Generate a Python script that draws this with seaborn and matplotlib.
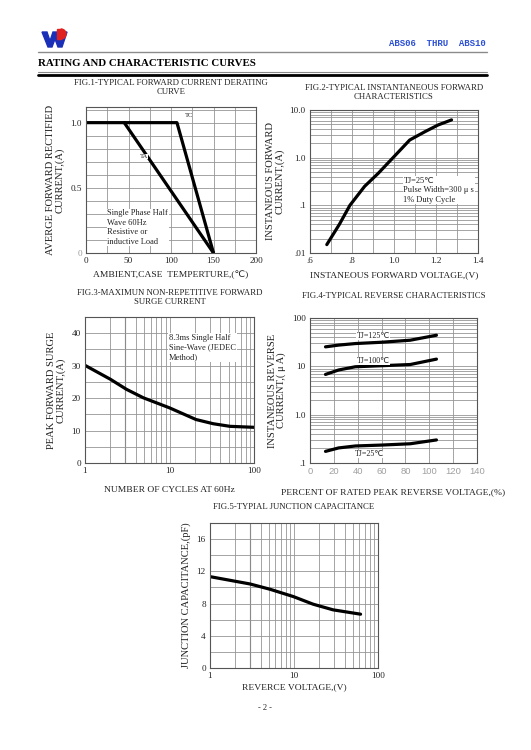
import numpy as np
import pandas as pd
import seaborn as sns
import matplotlib
matplotlib.use('Agg')
import matplotlib.pyplot as plt
from matplotlib.ticker import MultipleLocator, LogLocator, FixedLocator, NullFormatter
from matplotlib.patches import Polygon, Wedge

# Fig.1 derating curve
fig1_temp_tc = [0, 107, 150]
fig1_cur_tc = [1.0, 1.0, 0.0]
fig1_temp_ta = [45, 150]
fig1_cur_ta = [1.0, 0.0]

# Fig.2 forward characteristics
fig2_volt = [0.68, 0.74, 0.79, 0.86, 0.925, 1.0, 1.075, 1.147, 1.21, 1.274]
fig2_cur = [0.015, 0.04, 0.10, 0.25, 0.47, 1.05, 2.35, 3.5, 4.85, 6.2]

# Fig.3 surge current
fig3_cycles = [1, 2, 3.1, 4.9, 10, 20.6, 33, 52, 100]
fig3_cur = [30.1, 25.8, 22.7, 20.1, 17.0, 13.4, 12.1, 11.3, 11.0]

# Fig.4 reverse characteristics
fig4_pct = [13, 24, 38, 60, 84, 106]
fig4_tj125 = [25.3, 27.5, 29.6, 31.5, 34.7, 44]
fig4_tj100 = [6.8, 8.4, 9.8, 10.3, 10.9, 14.1]
fig4_tj25 = [0.174, 0.205, 0.225, 0.235, 0.25, 0.30]

# Fig.5 junction capacitance
fig5_volt = [1, 3, 5.2, 9.8, 16.9, 29.2, 62]
fig5_cap = [11.34, 10.43, 9.77, 8.87, 7.92, 7.22, 6.68]

sns.set_theme(style='white')
plt.rcParams['font.family'] = ['Liberation Serif', 'DejaVu Sans']

W, H = 531, 750
fig = plt.figure(figsize=(W / 100, H / 100), dpi=100)
fig.patch.set_facecolor('white')


def box(l, t, r, b):
    return [l / W, 1 - b / H, (r - l) / W, (b - t) / H]


GRID = '#959595'
TXT = '#222222'


def style(ax, title, xlabel, ylabel, title_y, xlab_pad):
    ax.grid(which='both', color=GRID, linewidth=0.6)
    ax.set_axisbelow(True)
    for s in ax.spines.values():
        s.set_color('#555555')
        s.set_linewidth(0.8)
    ax.tick_params(which='both', length=0, labelsize=6.6, colors=TXT, pad=3)
    ax.set_title(title, fontsize=6.3, color=TXT, y=title_y, linespacing=1.15)
    ax.set_xlabel(xlabel, fontsize=6.8, color=TXT, labelpad=xlab_pad)
    ax.set_ylabel(ylabel, fontsize=7.6, color=TXT, linespacing=1.0, labelpad=4)


def note(ax, x, y, s, size=6.0):
    ax.text(x, y, s, fontsize=size, color=TXT, va='top', ha='left',
            linespacing=1.25, bbox=dict(facecolor='white', edgecolor='none', pad=0.5))


# ---------------- Fig.1 ----------------
ax1 = fig.add_axes(box(86, 107, 256, 253))
sns.lineplot(x=fig1_temp_tc, y=fig1_cur_tc, ax=ax1, color='black', linewidth=2.3, sort=False)
sns.lineplot(x=fig1_temp_ta, y=fig1_cur_ta, ax=ax1, color='black', linewidth=2.3, sort=False)
ax1.set_xlim(0, 200)
ax1.set_ylim(0, 1.12)
ax1.xaxis.set_major_locator(MultipleLocator(50))
ax1.xaxis.set_minor_locator(MultipleLocator(25))
ax1.set_yticks([0, 0.5, 1.0])
ax1.set_yticklabels(['0', '0.5', '1.0'])
ax1.yaxis.set_minor_locator(MultipleLocator(0.1))
style(ax1, 'FIG.1-TYPICAL FORWARD CURRENT DERATING\nCURVE',
      'AMBIENT,CASE  TEMPERTURE,(\u2103)', 'AVERGE FORWARD RECTIFIED\nCURRENT,(A)', 1.03, 4)
ax1.get_yticklabels()[0].set_color('#999999')
ax1.text(116, 1.035, 'TC', fontsize=4.8, color=TXT, va='bottom')
ax1.text(63, 0.74, 'TA', fontsize=4.8, color=TXT, va='center',
         bbox=dict(facecolor='white', edgecolor='none', pad=0.2))
note(ax1, 25, 0.335, 'Single Phase Half\nWave 60Hz\nResistive or\ninductive Load')

# ---------------- Fig.2 ----------------
ax2 = fig.add_axes(box(310, 110, 478, 253))
sns.lineplot(x=fig2_volt, y=fig2_cur, ax=ax2, color='black', linewidth=2.3, sort=False)
ax2.set_yscale('log')
ax2.set_xlim(0.6, 1.4)
ax2.set_ylim(0.01, 10)
ax2.set_xticks([0.6, 0.8, 1.0, 1.2, 1.4])
ax2.set_xticklabels(['.6', '.8', '1.0', '1.2', '1.4'])
ax2.xaxis.set_minor_locator(MultipleLocator(0.1))
ax2.set_yticks([0.01, 0.1, 1, 10])
ax2.set_yticklabels(['.01', '.1', '1.0', '10.0'])
ax2.yaxis.set_minor_locator(LogLocator(base=10, subs=np.arange(2, 10)))
ax2.yaxis.set_minor_formatter(NullFormatter())
style(ax2, 'FIG.2-TYPICAL INSTANTANEOUS FORWARD\nCHARACTERISTICS',
      'INSTANEOUS FORWARD VOLTAGE,(V)', 'INSTANEOUS FORWARD\nCURRENT,(A)', 1.02, 4)
note(ax2, 1.045, 0.4, 'TJ=25\u2103\nPulse Width=300 \u03bc s\n1% Duty Cycle')

# ---------------- Fig.3 ----------------
ax3 = fig.add_axes(box(85, 317, 254, 463))
sns.lineplot(x=fig3_cycles, y=fig3_cur, ax=ax3, color='black', linewidth=2.3, sort=False)
ax3.set_xscale('log')
ax3.set_xlim(1, 100)
ax3.set_ylim(0, 45)
ax3.set_xticks([1, 10, 100])
ax3.set_xticklabels(['1', '10', '100'])
ax3.xaxis.set_minor_locator(LogLocator(base=10, subs=np.arange(2, 10)))
ax3.xaxis.set_minor_formatter(NullFormatter())
ax3.yaxis.set_major_locator(MultipleLocator(10))
ax3.yaxis.set_minor_locator(MultipleLocator(5))
style(ax3, 'FIG.3-MAXIMUN NON-REPETITIVE FORWARD\nSURGE CURRENT',
      'NUMBER OF CYCLES AT 60Hz', 'PEAK FORWARD SURGE\nCURRENT,(A)', 1.03, 8)
ax3.axvline(3, color='#555555', linewidth=0.8, zorder=0.5)
note(ax3, 9.9, 39.8, '8.3ms Single Half\nSine-Wave (JEDEC\nMethod)')

# ---------------- Fig.4 ----------------
ax4 = fig.add_axes(box(310, 318, 477, 463))
for series in (fig4_tj125, fig4_tj100, fig4_tj25):
    sns.lineplot(x=fig4_pct, y=series, ax=ax4, color='black', linewidth=2.3, sort=False)
ax4.set_yscale('log')
ax4.set_xlim(0, 140)
ax4.set_ylim(0.1, 100)
ax4.xaxis.set_major_locator(MultipleLocator(20))
ax4.set_yticks([0.1, 1, 10, 100])
ax4.set_yticklabels(['.1', '1.0', '10', '100'])
ax4.yaxis.set_minor_locator(LogLocator(base=10, subs=np.arange(2, 10)))
ax4.yaxis.set_minor_formatter(NullFormatter())
style(ax4, 'FIG.4-TYPICAL REVERSE CHARACTERISTICS',
      'PERCENT OF RATED PEAK REVERSE VOLTAGE,(%)', 'INSTANEOUS REVERSE\nCURRENT,( \u03bc A)', 1.08, 9)
for lab in ax4.get_xticklabels():
    lab.set_color('#a0a0a0')
    lab.set_family('Liberation Sans')
    lab.set_fontsize(6.8)
for x, y, s in [(53, 42, 'TJ=125\u2103'), (53, 12.9, 'TJ=100\u2103'), (50, 0.153, 'TJ=25\u2103')]:
    ax4.text(x, y, s, fontsize=5.8, color=TXT, ha='center', va='center',
             bbox=dict(facecolor='white', edgecolor='none', pad=0.2))

# ---------------- Fig.5 ----------------
ax5 = fig.add_axes(box(210, 523, 378, 668))
sns.lineplot(x=fig5_volt, y=fig5_cap, ax=ax5, color='black', linewidth=2.3, sort=False)
ax5.set_xscale('log')
ax5.set_xlim(1, 100)
ax5.set_ylim(0, 18)
ax5.set_xticks([1, 10, 100])
ax5.set_xticklabels(['1', '10', '100'])
ax5.xaxis.set_minor_locator(LogLocator(base=10, subs=np.arange(2, 10)))
ax5.xaxis.set_minor_formatter(NullFormatter())
ax5.yaxis.set_major_locator(MultipleLocator(4))
ax5.yaxis.set_minor_locator(MultipleLocator(2))
style(ax5, 'FIG.5-TYPIAL JUNCTION CAPACITANCE',
      'REVERCE VOLTAGE,(V)', 'JUNCTION CAPACITANCE,(pF)', 1.04, 2)
ax5.axvline(3, color='#555555', linewidth=0.8, zorder=0.5)

# ---------------- page header / footer ----------------
page = fig.add_axes([0, 0, 1, 1], zorder=-1)
page.set_xlim(0, W)
page.set_ylim(H, 0)
page.axis('off')
page.add_patch(Polygon([[42, 32], [47, 32], [50, 41], [53, 32], [57, 32], [60, 41], [63, 32],
                        [67, 32], [62, 47], [58, 47], [55, 39], [52, 47], [48, 47]],
                       closed=True, color='#1a2fb8'))
page.add_patch(Wedge((61, 34), 5, -90, 90, color='#e02020'))
page.add_patch(Polygon([[57, 29], [61, 29], [61, 39], [57, 39]], closed=True, color='#e02020'))
page.text(486, 44, 'ABS06  THRU  ABS10', fontsize=6.5, color='#2a4fd6', ha='right',
          va='center', family='Liberation Mono', fontweight='bold')
page.plot([38, 487], [52, 52], color='#8a8a8a', linewidth=1.0)
page.text(38, 63, 'RATING AND CHARACTERISTIC CURVES', fontsize=7.8, color='black',
          ha='left', va='center', fontweight='bold')
page.plot([38, 487], [71.5, 71.5], color='#8a8a8a', linewidth=0.8)
page.plot([38, 487], [74.5, 74.5], color='black', linewidth=2.0)
page.text(265, 708, '- 2 -', fontsize=6, color=TXT, ha='center', va='center')

fig.savefig('out.png', dpi=100, facecolor='white')
